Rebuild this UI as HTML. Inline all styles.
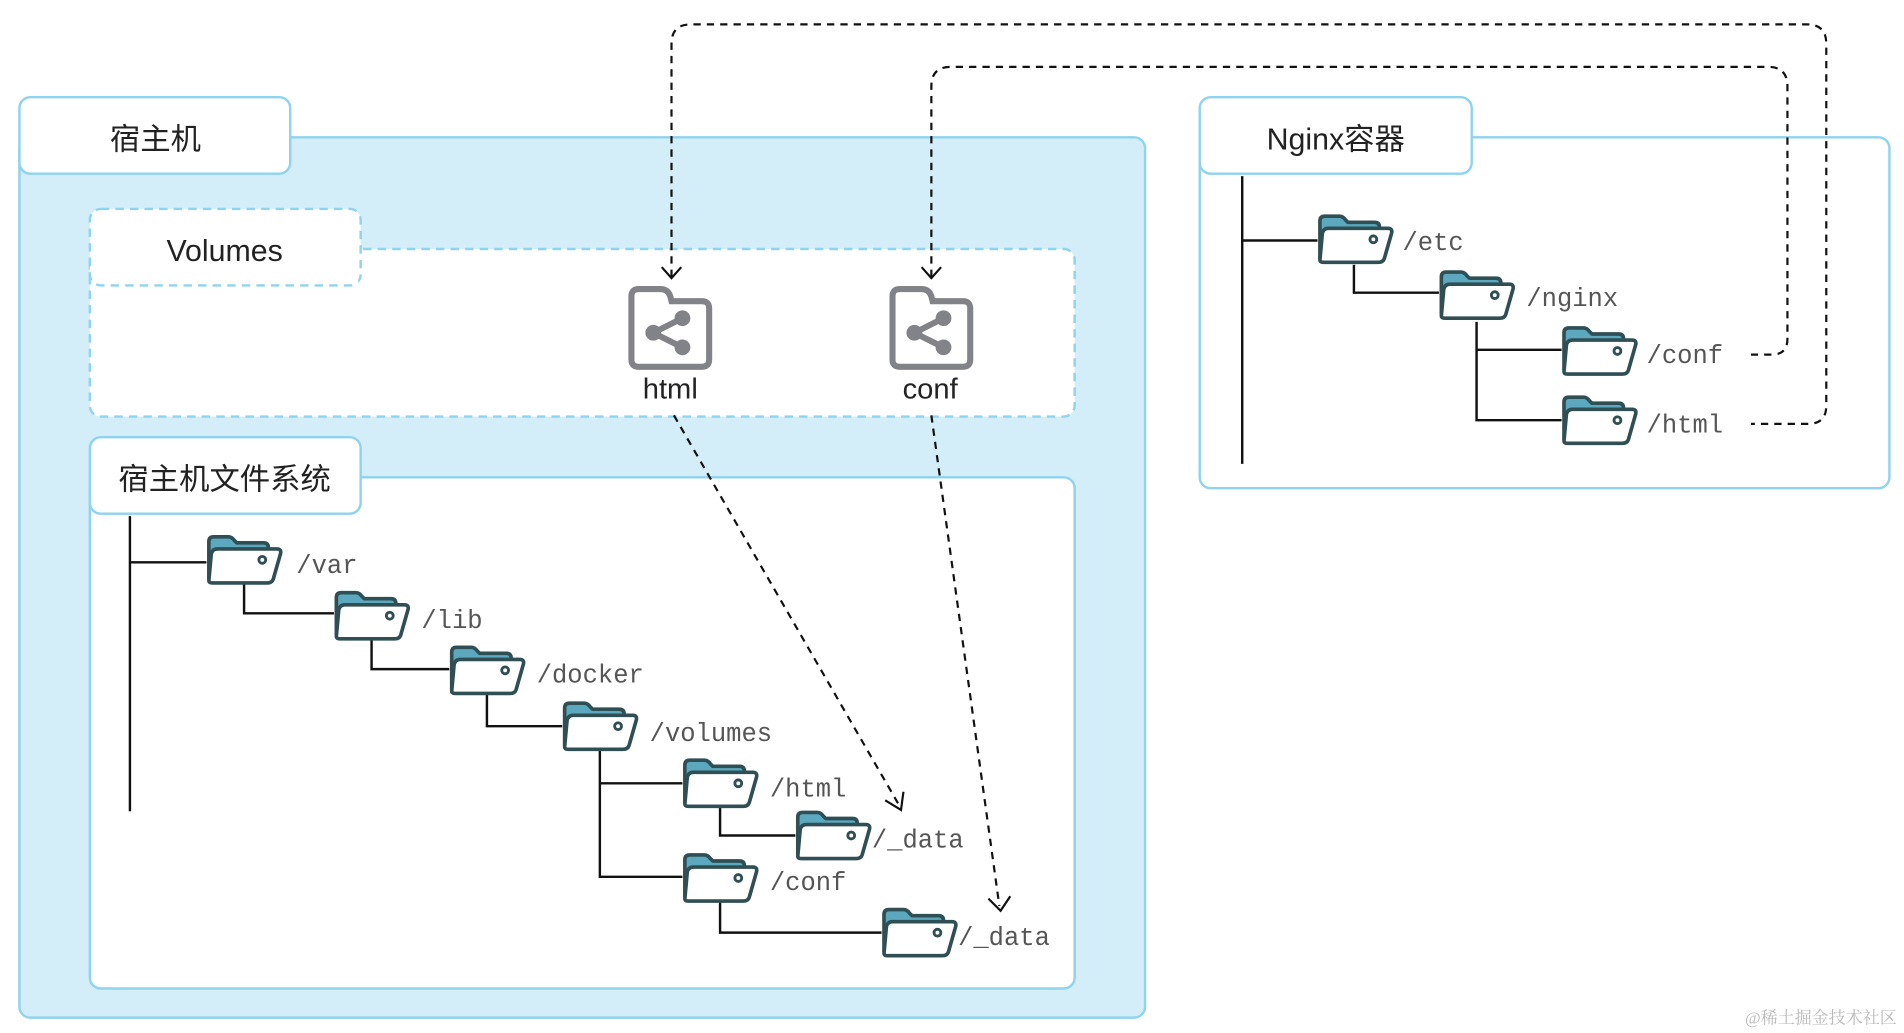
<!DOCTYPE html>
<html><head><meta charset="utf-8"><style>
html,body{margin:0;padding:0;background:#fff;width:1904px;height:1033px;overflow:hidden}
svg{display:block}
.cn{font-family:"Liberation Sans","Noto Sans CJK SC",sans-serif;fill:#222}
.mono{font-family:"Liberation Mono","DejaVu Sans Mono",monospace;fill:#555;font-size:21px}
</style></head><body>
<svg width="1904" height="1033" viewBox="0 0 1568 850.6" xmlns="http://www.w3.org/2000/svg">
<defs>
<g id="fd">
  <path d="M2,36 L2,5 Q2,1 6,1 L18,1 Q21,1 23,4 L25,6 L47,6 Q51,6 51,10 L51,14" fill="#5ba8bf" stroke="#2f4f55" stroke-width="3" stroke-linejoin="round"/>
  <path d="M2,37 L4,15 Q5,11 9,11 L58,11 Q62,11 61,15 L55,36 Q54,39 50,39 L5,39 Q2,39 2,37 Z" fill="#fff" stroke="#2f4f55" stroke-width="3" stroke-linejoin="round"/>
  <circle cx="46" cy="20" r="2.8" fill="#fff" stroke="#2f4f55" stroke-width="2.4"/>
</g>
<g id="sh">
  <path d="M4,60 L4,8 Q4,2 10,2 L28,2 Q34,2 36,8 L37,12 L62,12 Q68,12 68,18 L68,60 Q68,66 62,66 L10,66 Q4,66 4,60 Z" fill="#fff" stroke="#828289" stroke-width="5"/>
  <circle cx="22" cy="38" r="6.5" fill="#828289"/>
  <circle cx="46" cy="26" r="6.5" fill="#828289"/>
  <circle cx="46" cy="50" r="6.5" fill="#828289"/>
  <path d="M22,38 L46,26 M22,38 L46,50" stroke="#828289" stroke-width="5"/>
</g>
<marker id="ar" markerWidth="14" markerHeight="14" refX="7" refY="12" orient="auto" markerUnits="userSpaceOnUse">
</marker>
</defs>

<!-- host outer -->
<rect x="16" y="113" width="927" height="725" rx="9" fill="#d3eef8" stroke="#8fd3ee" stroke-width="2"/>
<rect x="16" y="80" width="223" height="63" rx="9" fill="#fff" stroke="#8fd3ee" stroke-width="2"/>
<text x="128" y="123" text-anchor="middle" class="cn" font-size="25">宿主机</text>

<!-- volumes -->
<rect x="74" y="205" width="811" height="138" rx="9" fill="#fff" stroke="#8fd3ee" stroke-width="2" stroke-dasharray="7 5"/>
<rect x="74" y="172" width="223" height="63" rx="9" fill="#fff" stroke="#8fd3ee" stroke-width="2" stroke-dasharray="7 5"/>
<rect x="76" y="206" width="219" height="27" fill="#fff"/>
<text x="185" y="215" text-anchor="middle" class="cn" font-size="25">Volumes</text>

<use href="#sh" x="516" y="236"/>
<use href="#sh" x="731" y="236"/>
<text x="552" y="328" text-anchor="middle" class="cn" font-size="24">html</text>
<text x="766" y="328" text-anchor="middle" class="cn" font-size="24">conf</text>

<!-- host fs -->
<rect x="74" y="393" width="811" height="421" rx="9" fill="#fff" stroke="#8fd3ee" stroke-width="2"/>
<rect x="74" y="360" width="223" height="63" rx="9" fill="#fff" stroke="#8fd3ee" stroke-width="2"/>
<text x="185" y="403" text-anchor="middle" class="cn" font-size="25">宿主机文件系统</text>

<!-- nginx -->
<rect x="988" y="113" width="568" height="289" rx="9" fill="#fff" stroke="#8fd3ee" stroke-width="2"/>
<rect x="988" y="80" width="224" height="63" rx="9" fill="#fff" stroke="#8fd3ee" stroke-width="2"/>
<text x="1100" y="123" text-anchor="middle" class="cn" font-size="25">Nginx容器</text>

<!-- tree lines host -->
<g stroke="#111" stroke-width="2" fill="none">
<path d="M107,425 V668 M107,463 H170"/>
<path d="M201,481 V505 H275"/>
<path d="M306,526 V551 H370"/>
<path d="M401,572 V598 H463"/>
<path d="M494,618 V722 H562 M494,645 H562"/>
<path d="M593,665 V688 H655"/>
<path d="M593,742 V768 H726"/>
<path d="M1023,145 V382 M1023,198 H1085"/>
<path d="M1115,218 V241 H1185"/>
<path d="M1216,265 V346 H1286 M1216,288 H1286"/>
</g>

<use href="#fd" x="170" y="441"/>
<use href="#fd" x="275" y="487"/>
<use href="#fd" x="370" y="532"/>
<use href="#fd" x="463" y="578"/>
<use href="#fd" x="562" y="625"/>
<use href="#fd" x="655" y="668"/>
<use href="#fd" x="562" y="703"/>
<use href="#fd" x="726" y="748"/>
<use href="#fd" x="1085" y="177"/>
<use href="#fd" x="1185" y="223"/>
<use href="#fd" x="1286" y="269"/>
<use href="#fd" x="1286" y="326"/>

<text x="244" y="472" class="mono">/var</text>
<text x="347" y="517" class="mono">/lib</text>
<text x="442" y="562" class="mono">/docker</text>
<text x="535" y="610" class="mono">/volumes</text>
<text x="634" y="656" class="mono">/html</text>
<text x="718" y="698" class="mono">/_data</text>
<text x="634" y="733" class="mono">/conf</text>
<text x="789" y="778" class="mono">/_data</text>
<text x="1155" y="206" class="mono">/etc</text>
<text x="1257" y="252" class="mono">/nginx</text>
<text x="1356" y="299" class="mono">/conf</text>
<text x="1356" y="356" class="mono">/html</text>

<!-- dashed connectors -->
<g stroke="#111" stroke-width="1.8" fill="none" stroke-dasharray="6 5">
<path d="M553,228 V36 Q553,20 569,20 H1488 Q1504,20 1504,36 V334 Q1504,349 1489,349 H1442"/>
<path d="M767,228 V71 Q767,55 783,55 H1456 Q1472,55 1472,71 V279 Q1472,292 1459,292 H1442"/>
<path d="M555,342 L741,664"/>
<path d="M767,342 L823,746"/>
</g>
<g stroke="#111" stroke-width="1.8" fill="none">
<path d="M545,220 L553,229 L561,220"/>
<path d="M759,220 L767,229 L775,220"/>
<path d="M729,659 L742,667 L744,652"/>
<path d="M814,740 L824,750 L832,738"/>
</g>

<text x="1562" y="843" text-anchor="end" font-family="Liberation Serif,'Noto Serif CJK SC',serif" font-size="14" fill="#bbb">@稀土掘金技术社区</text>
</svg>
</body></html>
